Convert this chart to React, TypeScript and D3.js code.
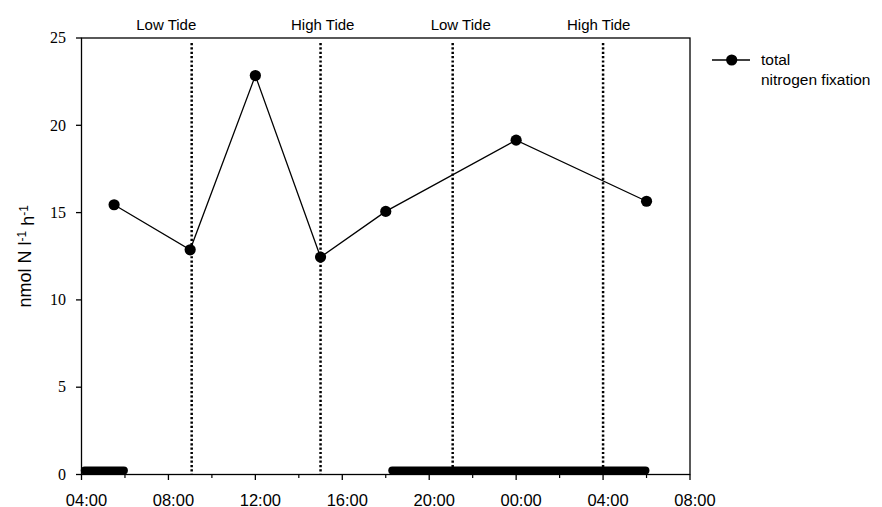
import React from 'react';
import * as d3 from 'd3';

// times are hours since 00:00 of the first day
const sampleTimes = [5.5, 9, 12, 15, 18, 24, 30];
const fixationValues = [15.45, 12.87, 22.85, 12.45, 15.07, 19.15, 15.65];

const tideTimes = [9.07, 15.0, 21.08, 28.0];
const tideNames = ['Low Tide', 'High Tide', 'Low Tide', 'High Tide'];
const tideLabelTimes = [7.9, 15.1, 21.45, 27.8];

// dark periods, drawn as thick bars near zero
const darkStart = [4.15, 18.3];
const darkEnd = [5.95, 29.95];
const darkLevel = 0.23;

const xTickHours = [4, 8, 12, 16, 20, 24, 28, 32];
const xTickLabels = ['04:00', '08:00', '12:00', '16:00', '20:00', '00:00', '04:00', '08:00'];
const xMinorHours = [6, 10, 14, 18, 22, 26, 30];
const yTicks = [0, 5, 10, 15, 20, 25];

const W = 882;
const H = 507;
const margin = { left: 81.5, right: W - 690, top: 38, bottom: H - 474.5 };

export default function App() {
  const x = d3.scaleLinear().domain([4, 32]).range([margin.left, W - margin.right]);
  const y = d3.scaleLinear().domain([0, 25]).range([H - margin.bottom, margin.top]);

  const pts: [number, number][] = sampleTimes.map((t, i) => [t, fixationValues[i]]);
  const line = d3.line<[number, number]>().x(d => x(d[0])).y(d => y(d[1]));

  const sans = '"Liberation Sans", Arial, sans-serif';
  const serif = '"Liberation Serif", "Times New Roman", serif';
  const x0 = x(4), x1 = x(32), y0 = y(0), y1 = y(25);

  return (
    <svg width={W} height={H} style={{ position: 'absolute', left: 0, top: 0, background: '#fff' }}>
      {/* tide lines */}
      {tideTimes.map((t, i) => (
        <line key={'tl' + i} x1={x(t)} x2={x(t)} y1={y1 + 5} y2={y0}
          stroke="#000" strokeWidth={2.5} strokeDasharray="2.2 2.15" />
      ))}
      {tideNames.map((n, i) => (
        <text key={'tn' + i} x={x(tideLabelTimes[i])} y={29.5} textAnchor="middle"
          fontFamily={sans} fontSize={15} fill="#000">{n}</text>
      ))}

      {/* dark bars */}
      {darkStart.map((s, i) => (
        <line key={'db' + i} x1={x(s)} x2={x(darkEnd[i])} y1={y(darkLevel)} y2={y(darkLevel)}
          stroke="#000" strokeWidth={8} strokeLinecap="round" />
      ))}

      {/* frame */}
      <rect x={x0} y={y1} width={x1 - x0} height={y0 - y1} fill="none" stroke="#000" strokeWidth={1.3} />

      {/* y axis */}
      {yTicks.map(v => (
        <g key={'yt' + v}>
          <line x1={x0 - 5.5} x2={x0} y1={y(v)} y2={y(v)} stroke="#000" strokeWidth={1.3} />
          <text x={x0 - 15.5} y={y(v)} dy="0.33em" textAnchor="end" fontFamily={serif} fontSize={16} fill="#000">{v}</text>
        </g>
      ))}

      {/* x axis */}
      {xTickHours.map((h, i) => (
        <g key={'xt' + i}>
          <line x1={x(h)} x2={x(h)} y1={y0} y2={y0 + 5.5} stroke="#000" strokeWidth={1.3} />
          <text x={x(h) + 5} y={505.5} textAnchor="middle" fontFamily={sans} fontSize={16.5} fill="#000">{xTickLabels[i]}</text>
        </g>
      ))}
      {xMinorHours.map(h => (
        <line key={'xm' + h} x1={x(h)} x2={x(h)} y1={y0} y2={y0 + 3.5} stroke="#000" strokeWidth={1.2} />
      ))}

      {/* y label */}
      <text transform={`translate(31,${(y0 + y1) / 2}) rotate(-90)`} textAnchor="middle"
        fontFamily={sans} fontSize={18} fill="#000">
        nmol N l<tspan dy="-0.45em" fontSize={12}>-1</tspan>
        <tspan dy="0.45em"> h</tspan><tspan dy="-0.45em" fontSize={12}>-1</tspan>
      </text>

      {/* data */}
      <path d={line(pts) || ''} fill="none" stroke="#000" strokeWidth={1.3} />
      {pts.map((p, i) => (
        <circle key={'pt' + i} cx={x(p[0])} cy={y(p[1])} r={5.6} fill="#000" />
      ))}

      {/* legend */}
      <line x1={712} x2={750} y1={60} y2={60} stroke="#000" strokeWidth={1.3} />
      <circle cx={731.7} cy={60} r={5.6} fill="#000" />
      <text x={761} y={65} fontFamily={sans} fontSize={15.5} fill="#000">total</text>
      <text x={761} y={84.5} fontFamily={sans} fontSize={15.5} fill="#000">nitrogen fixation</text>
    </svg>
  );
}
